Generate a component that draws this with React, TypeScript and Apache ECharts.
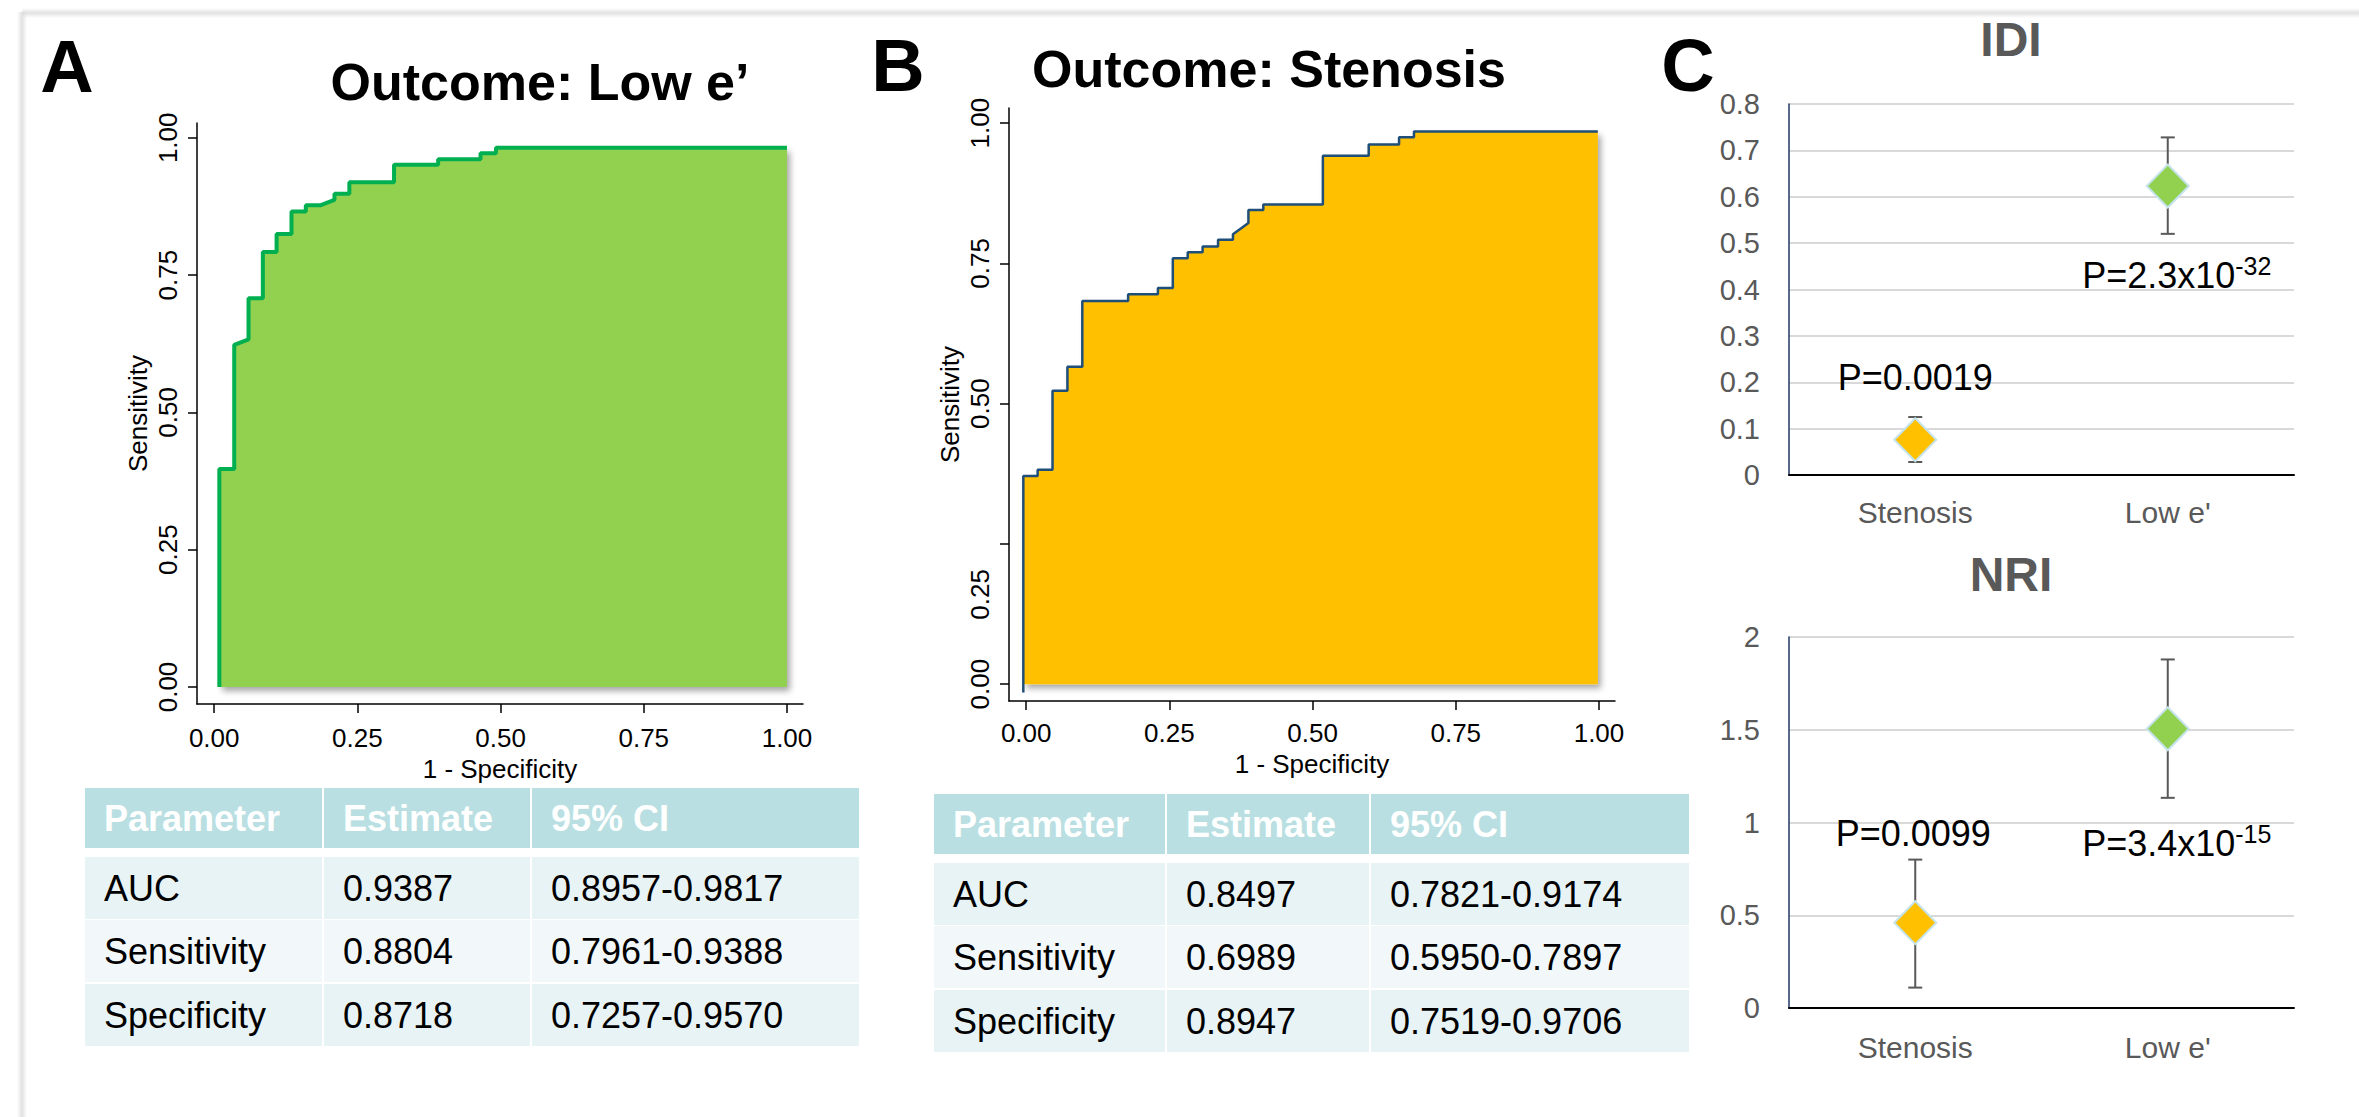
import React, { useEffect, useRef } from "react";
import * as echarts from "echarts";

const FONT = "'Liberation Sans', Arial, Helvetica, sans-serif";

// ROC curve, panel A (Outcome: Low e')
const rocAFpr = [0.009, 0.009, 0.035, 0.035, 0.06, 0.06, 0.085, 0.085, 0.109, 0.109, 0.135, 0.135, 0.16, 0.16, 0.185, 0.21, 0.21, 0.236, 0.236, 0.314, 0.314, 0.391, 0.391, 0.465, 0.465, 0.492, 0.492, 1.0];
const rocATpr = [0.0, 0.397, 0.397, 0.623, 0.633, 0.708, 0.708, 0.792, 0.792, 0.825, 0.825, 0.866, 0.866, 0.877, 0.877, 0.887, 0.898, 0.898, 0.919, 0.919, 0.951, 0.951, 0.961, 0.961, 0.972, 0.972, 0.982, 0.982];

// ROC curve, panel B (Outcome: Stenosis)
const rocBFpr = [-0.005, -0.005, 0.02, 0.02, 0.046, 0.046, 0.072, 0.072, 0.098, 0.098, 0.178, 0.178, 0.23, 0.23, 0.256, 0.256, 0.282, 0.282, 0.308, 0.308, 0.335, 0.335, 0.361, 0.361, 0.388, 0.388, 0.414, 0.414, 0.518, 0.518, 0.598, 0.598, 0.651, 0.651, 0.677, 0.677, 0.998];
const rocBTpr = [-0.015, 0.371, 0.371, 0.382, 0.382, 0.523, 0.523, 0.566, 0.566, 0.683, 0.683, 0.695, 0.695, 0.706, 0.706, 0.759, 0.759, 0.77, 0.77, 0.78, 0.78, 0.792, 0.792, 0.802, 0.822, 0.845, 0.845, 0.855, 0.855, 0.942, 0.942, 0.962, 0.962, 0.975, 0.975, 0.985, 0.985];

const rocTicks = [0, 0.25, 0.5, 0.75, 1];
const rocTickLabels = ["0.00", "0.25", "0.50", "0.75", "1.00"];
// panel B: the "0.25" y label sits below its tick in the original
const rocBYLabelPos = [0, 0.16, 0.5, 0.75, 1];

// Panel C
const categories = ["Stenosis", "Low e'"];
const idiEst = [0.076, 0.623];
const idiLow = [0.028, 0.52];
const idiHigh = [0.125, 0.728];
const nriEst = [0.46, 1.505];
const nriLow = [0.11, 1.133];
const nriHigh = [0.8, 1.879];
const idiP = [["P=0.0019", ""], ["P=2.3x10", "-32"]];
const nriP = [["P=0.0099", ""], ["P=3.4x10", "-15"]];
const markerColors = ["#ffc000", "#92d050"];

// Tables
const tableHeader = ["Parameter", "Estimate", "95% CI"];
const tableARows = [
  ["AUC", "0.9387", "0.8957-0.9817"],
  ["Sensitivity", "0.8804", "0.7961-0.9388"],
  ["Specificity", "0.8718", "0.7257-0.9570"],
];
const tableBRows = [
  ["AUC", "0.8497", "0.7821-0.9174"],
  ["Sensitivity", "0.6989", "0.5950-0.7897"],
  ["Specificity", "0.8947", "0.7519-0.9706"],
];

function buildTable(x0: number, colW: number[], headerY: number, headerH: number, rowYs: number[], rowH: number, header: string[], rows: string[][]) {
  const els: any[] = [];
  let x = x0;
  colW.forEach((w, c) => {
    els.push({ type: "rect", shape: { x, y: headerY, width: w, height: headerH }, style: { fill: "#b9dfe2" } });
    els.push({
      type: "text", x: x + 19, y: headerY + headerH / 2,
      style: { text: header[c], fill: "#ffffff", fontSize: 36, fontWeight: "bold", fontFamily: FONT, align: "left", verticalAlign: "middle" },
    });
    rows.forEach((row, r) => {
      els.push({ type: "rect", shape: { x, y: rowYs[r], width: w, height: rowH }, style: { fill: r % 2 === 1 ? "#f2f8fa" : "#e8f3f5" } });
      els.push({
        type: "text", x: x + 19, y: rowYs[r] + rowH / 2,
        style: { text: row[c], fill: "#000000", fontSize: 36, fontFamily: FONT, align: "left", verticalAlign: "middle" },
      });
    });
    x += w + 2;
  });
  return els;
}

function rocXAxis(gridIndex: number, margin: number, nameGap: number) {
  return {
    type: "value", gridIndex, min: -0.03, max: 1.028,
    axisLine: { show: true, onZero: false, lineStyle: { color: "#000", width: 1.5 } },
    axisTick: { show: true, customValues: rocTicks, length: 9, lineStyle: { color: "#000", width: 1.5 } },
    axisLabel: {
      customValues: rocTicks, margin, fontSize: 26, color: "#000", fontFamily: FONT,
      formatter: (v: number) => rocTickLabels[rocTicks.findIndex((t) => Math.abs(t - v) < 1e-6)] ?? "",
    },
    splitLine: { show: false },
    name: "1 - Specificity", nameLocation: "middle", nameGap,
    nameTextStyle: { fontSize: 26, color: "#000", fontFamily: FONT },
  };
}

function rocYAxis(gridIndex: number, min: number, max: number, labelPos: number[]) {
  return {
    type: "value", gridIndex, min, max,
    axisLine: { show: true, onZero: false, lineStyle: { color: "#000", width: 1.5 } },
    axisTick: { show: true, customValues: rocTicks, length: 9, lineStyle: { color: "#000", width: 1.5 } },
    axisLabel: {
      customValues: labelPos, rotate: 90, margin: 16, fontSize: 26, color: "#000", fontFamily: FONT,
      formatter: (v: number) => rocTickLabels[labelPos.findIndex((t) => Math.abs(t - v) < 1e-6)] ?? "",
    },
    splitLine: { show: false },
    name: "Sensitivity", nameLocation: "middle", nameGap: 46,
    nameTextStyle: { fontSize: 26, color: "#000", fontFamily: FONT },
  };
}

function catAxis(gridIndex: number, margin: number) {
  return {
    type: "category", gridIndex, data: categories, boundaryGap: true,
    axisLine: { show: true, lineStyle: { color: "#000", width: 2 } },
    axisTick: { show: false },
    axisLabel: { color: "#595959", fontSize: 30, margin, fontFamily: FONT },
    splitLine: { show: false },
  };
}

function valAxis(gridIndex: number, max: number, interval: number, dec: number) {
  return {
    type: "value", gridIndex, min: 0, max, interval,
    axisLine: { show: true, lineStyle: { color: "#1f3864", width: 1.5 } },
    axisTick: { show: false },
    axisLabel: {
      color: "#595959", fontSize: 29, margin: 29, fontFamily: FONT,
      formatter: (v: number) => String(Number(v.toFixed(dec))),
    },
    splitLine: { show: true, lineStyle: { color: "#d9d9d9", width: 2 } },
  };
}

function errorSeries(xi: number, lo: number[], hi: number[]) {
  return {
    type: "custom", xAxisIndex: xi, yAxisIndex: xi, z: 2, clip: false,
    data: lo.map((l, i) => [i, l, hi[i]]),
    encode: { x: 0, y: [1, 2] },
    renderItem: (_params: any, api: any) => {
      const i = api.value(0);
      const a = api.coord([i, api.value(1)]);
      const b = api.coord([i, api.value(2)]);
      const c = 7;
      const st = { stroke: "#595959", lineWidth: 2 };
      return {
        type: "group",
        children: [
          { type: "line", shape: { x1: a[0], y1: a[1], x2: b[0], y2: b[1] }, style: st },
          { type: "line", shape: { x1: a[0] - c, y1: a[1], x2: a[0] + c, y2: a[1] }, style: st },
          { type: "line", shape: { x1: b[0] - c, y1: b[1], x2: b[0] + c, y2: b[1] }, style: st },
        ],
      };
    },
  };
}

function pointSeries(xi: number, est: number[], pLabels: string[][], offsets: number[][]) {
  return {
    type: "scatter", xAxisIndex: xi, yAxisIndex: xi, z: 3,
    symbol: "diamond", symbolSize: [42, 43],
    data: est.map((v, i) => ({
      value: [i, v],
      itemStyle: { color: markerColors[i], borderColor: "#c5e3ea", borderWidth: 2, opacity: 1 },
      label: {
        show: true, position: "inside", offset: offsets[i], color: "#000",
        formatter: pLabels[i][1] ? `{b|${pLabels[i][0]}}{s|${pLabels[i][1]}}` : `{b|${pLabels[i][0]}}`,
        rich: {
          b: { fontSize: 36, color: "#000", fontFamily: FONT, lineHeight: 44 },
          s: { fontSize: 25, color: "#000", fontFamily: FONT, lineHeight: 25, verticalAlign: "top" },
        },
      },
    })),
  };
}

export default function App() {
  const ref = useRef<HTMLDivElement>(null);
  useEffect(() => {
    document.body.style.margin = "0";
    if (!ref.current) return;
    const chart = echarts.init(ref.current, undefined, { renderer: "svg" });

    const letter = (t: string, x: number, y: number) => ({
      type: "text", x, y,
      style: { text: t, fontSize: 74, fontWeight: "bold", fontFamily: FONT, fill: "#000", align: "center", verticalAlign: "middle" },
    });
    const title = (t: string, x: number, y: number, size: number, color: string) => ({
      type: "text", x, y,
      style: { text: t, fontSize: size, fontWeight: "bold", fontFamily: FONT, fill: color, align: "center", verticalAlign: "middle" },
    });

    const frame = [
      {
        type: "rect", shape: { x: 22, y: 8, width: 2337, height: 10 },
        style: { fill: new echarts.graphic.LinearGradient(0, 0, 0, 1, [
          { offset: 0, color: "rgba(220,220,220,0)" }, { offset: 0.5, color: "rgba(220,220,220,0.85)" }, { offset: 1, color: "rgba(220,220,220,0)" }]) },
      },
      {
        type: "rect", shape: { x: 17, y: 12, width: 10, height: 1105 },
        style: { fill: new echarts.graphic.LinearGradient(0, 0, 1, 0, [
          { offset: 0, color: "rgba(220,220,220,0)" }, { offset: 0.5, color: "rgba(220,220,220,0.85)" }, { offset: 1, color: "rgba(220,220,220,0)" }]) },
      },
    ];

    const option: any = {
      animation: false,
      backgroundColor: "#ffffff",
      textStyle: { fontFamily: FONT },
      grid: [
        { left: 197, top: 123, width: 606, height: 581 },
        { left: 1009, top: 108, width: 606, height: 593 },
        { left: 1789, top: 104, width: 505, height: 371 },
        { left: 1789, top: 637, width: 505, height: 371 },
      ],
      xAxis: [rocXAxis(0, 21, 46), rocXAxis(1, 19, 44), catAxis(2, 22), catAxis(3, 24)],
      yAxis: [
        rocYAxis(0, -0.031, 1.027, rocTicks),
        rocYAxis(1, -0.03, 1.027, rocBYLabelPos),
        valAxis(2, 0.8, 0.1, 1),
        valAxis(3, 2, 0.5, 1),
      ],
      series: [
        {
          type: "line", xAxisIndex: 0, yAxisIndex: 0, symbol: "none", showSymbol: false, z: 2,
          data: rocAFpr.map((x, i) => [x, rocATpr[i]]),
          lineStyle: { color: "#00b050", width: 4 },
          areaStyle: { color: "#92d050", opacity: 1, origin: 0, shadowBlur: 6, shadowColor: "rgba(0,0,0,0.35)", shadowOffsetX: 3, shadowOffsetY: 4 },
        },
        {
          type: "line", xAxisIndex: 1, yAxisIndex: 1, symbol: "none", showSymbol: false, z: 2,
          data: rocBFpr.map((x, i) => [x, rocBTpr[i]]),
          lineStyle: { color: "#1f4e79", width: 2.5 },
          areaStyle: { color: "#ffc000", opacity: 1, origin: 0, shadowBlur: 6, shadowColor: "rgba(0,0,0,0.35)", shadowOffsetX: 3, shadowOffsetY: 4 },
        },
        errorSeries(2, idiLow, idiHigh),
        pointSeries(2, idiEst, idiP, [[0, -62], [9, 89]]),
        errorSeries(3, nriLow, nriHigh),
        pointSeries(3, nriEst, nriP, [[-2, -89], [9, 115]]),
      ],
      graphic: [
        ...frame,
        letter("A", 67, 66),
        letter("B", 898, 65),
        letter("C", 1688, 65),
        title("Outcome: Low e\u2019", 540, 82, 52, "#000"),
        title("Outcome: Stenosis", 1269, 69, 52, "#000"),
        title("IDI", 2011, 39, 48, "#595959"),
        title("NRI", 2011, 574, 48, "#595959"),
        ...buildTable(85, [237, 206, 327], 788, 60, [857, 920, 984], 62, tableHeader, tableARows),
        ...buildTable(934, [231, 202, 318], 794, 60, [863, 926, 990], 62, tableHeader, tableBRows),
      ],
    };
    chart.setOption(option);
    return () => chart.dispose();
  }, []);
  return <div ref={ref} style={{ width: 2359, height: 1117 }} />;
}
